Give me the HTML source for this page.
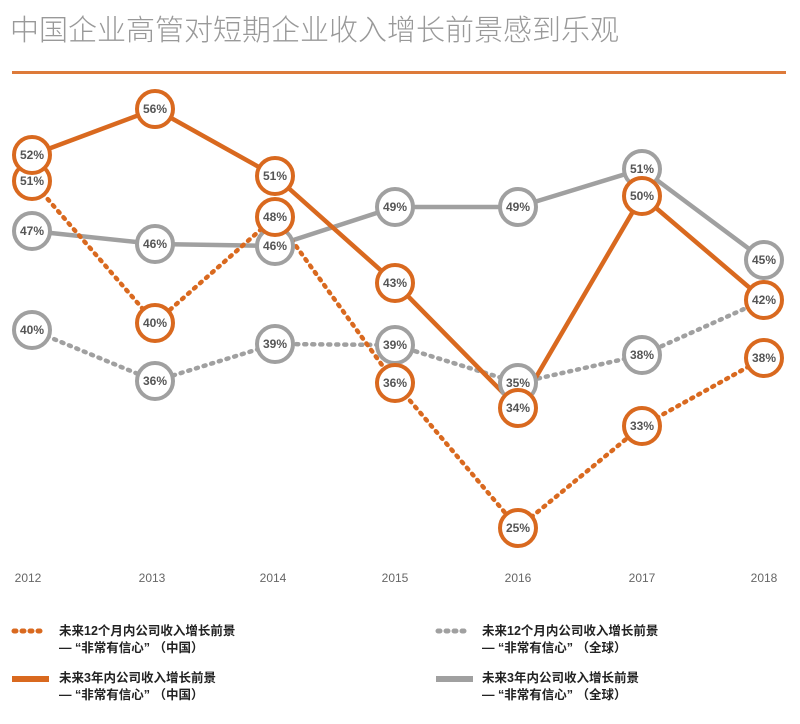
<!DOCTYPE html>
<html><head><meta charset="utf-8"><style>
body{margin:0;background:#fff;width:800px;height:719px;overflow:hidden}
svg text{font-family:"Liberation Sans","Noto Sans CJK SC",sans-serif}
</style></head><body>
<svg width="800" height="719" viewBox="0 0 800 719" xmlns="http://www.w3.org/2000/svg">
<text x="10" y="40" font-size="29" fill="#999" font-family="'Noto Sans CJK SC',sans-serif" font-weight="300">中国企业高管对短期企业收入增长前景感到乐观</text>
<rect x="12" y="71" width="774" height="3" fill="#dd7a3a"/>
<g fill="none" stroke-width="4.5" stroke-linejoin="round">
<polyline stroke="#a0a0a0" stroke-dasharray="2,6" stroke-linecap="round" points="32,330 155,381 275,344 395,345 518,383 642,355 764,300"/>
<polyline stroke="#a0a0a0" points="32,231 155,244 275,246 395,207 518,207 642,169 764,260"/>
<polyline stroke="#d9691f" stroke-dasharray="2,6" stroke-linecap="round" points="32,181 155,323 275,217 395,383 518,528 642,426 764,358"/>
<polyline stroke="#d9691f" points="32,155 155,109 275,176 395,283 518,408 642,196 764,300"/>
</g>
<g stroke-width="4" fill="#fff" font-size="12" font-weight="bold" text-anchor="middle">
<g stroke="#a0a0a0">
<circle cx="32" cy="330" r="18"/><circle cx="155" cy="381" r="18"/><circle cx="275" cy="344" r="18"/><circle cx="395" cy="345" r="18"/><circle cx="518" cy="383" r="18"/><circle cx="642" cy="355" r="18"/>
<circle cx="32" cy="231" r="18"/><circle cx="155" cy="244" r="18"/><circle cx="275" cy="246" r="18"/><circle cx="395" cy="207" r="18"/><circle cx="518" cy="207" r="18"/><circle cx="642" cy="169" r="18"/><circle cx="764" cy="260" r="18"/>
</g>
<g stroke="#d9691f">
<circle cx="32" cy="181" r="18"/><circle cx="155" cy="323" r="18"/><circle cx="275" cy="217" r="18"/><circle cx="395" cy="383" r="18"/><circle cx="518" cy="528" r="18"/><circle cx="642" cy="426" r="18"/><circle cx="764" cy="358" r="18"/>
<circle cx="32" cy="155" r="18"/><circle cx="155" cy="109" r="18"/><circle cx="275" cy="176" r="18"/><circle cx="395" cy="283" r="18"/><circle cx="518" cy="408" r="18"/><circle cx="642" cy="196" r="18"/><circle cx="764" cy="300" r="18"/>
</g>
<g fill="#555" stroke="none">
<text x="32" y="334">40%</text><text x="155" y="385">36%</text><text x="275" y="348">39%</text><text x="395" y="349">39%</text><text x="518" y="387">35%</text><text x="642" y="359">38%</text>
<text x="32" y="235">47%</text><text x="155" y="248">46%</text><text x="275" y="250">46%</text><text x="395" y="211">49%</text><text x="518" y="211">49%</text><text x="642" y="173">51%</text><text x="764" y="264">45%</text>
<text x="32" y="185">51%</text><text x="155" y="327">40%</text><text x="275" y="221">48%</text><text x="395" y="387">36%</text><text x="518" y="532">25%</text><text x="642" y="430">33%</text><text x="764" y="362">38%</text>
<text x="32" y="159">52%</text><text x="155" y="113">56%</text><text x="275" y="180">51%</text><text x="395" y="287">43%</text><text x="518" y="412">34%</text><text x="642" y="200">50%</text><text x="764" y="304">42%</text>
</g>
</g>
<g font-size="12" fill="#666" text-anchor="middle">
<text x="28" y="582">2012</text><text x="152" y="582">2013</text><text x="273" y="582">2014</text><text x="395" y="582">2015</text><text x="518" y="582">2016</text><text x="642" y="582">2017</text><text x="764" y="582">2018</text>
</g>
<g stroke-width="5">
<line x1="14" y1="631" x2="42" y2="631" stroke="#d9691f" stroke-dasharray="2,6" stroke-linecap="round"/>
<line x1="438" y1="631" x2="466" y2="631" stroke="#a0a0a0" stroke-dasharray="2,6" stroke-linecap="round"/>
<line x1="12" y1="679" x2="49" y2="679" stroke="#d9691f" stroke-width="6"/>
<line x1="436" y1="679" x2="473" y2="679" stroke="#a0a0a0" stroke-width="6"/>
</g>
<g font-size="12.5" fill="#222" font-weight="bold" font-family="'Liberation Sans','Noto Sans CJK SC',sans-serif">
<text x="59" y="635">未来12个月内公司收入增长前景</text><text x="59" y="652">— “非常有信心” （中国）</text>
<text x="482" y="635">未来12个月内公司收入增长前景</text><text x="482" y="652">— “非常有信心” （全球）</text>
<text x="59" y="682">未来3年内公司收入增长前景</text><text x="59" y="699">— “非常有信心” （中国）</text>
<text x="482" y="682">未来3年内公司收入增长前景</text><text x="482" y="699">— “非常有信心” （全球）</text>
</g>
</svg>
</body></html>
